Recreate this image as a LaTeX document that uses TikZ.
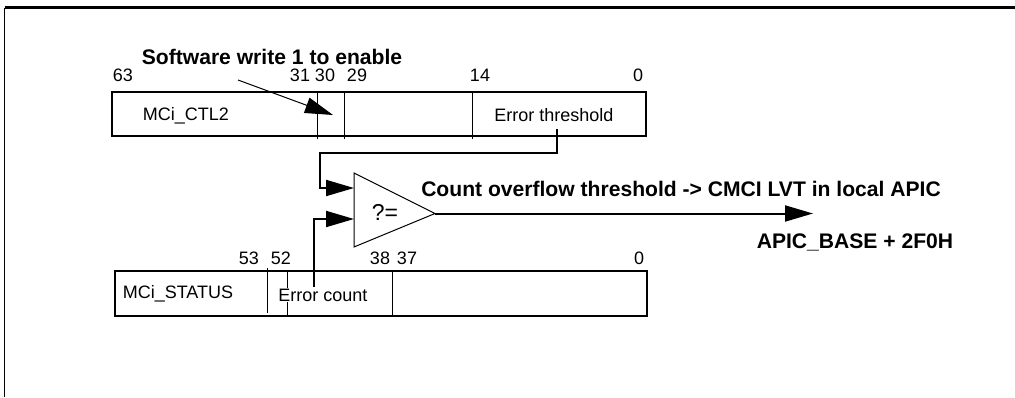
\documentclass[tikz,border=0pt]{standalone}
\usepackage{fontspec}
\setmainfont{Liberation Sans}
\usetikzlibrary{arrows.meta}
\begin{document}
\begin{tikzpicture}[x=1pt,y=-1pt,
  txt/.style={font=\fontsize{18}{21}\selectfont, inner sep=0pt, anchor=base},
  bold/.style={font=\fontsize{21.1}{24}\selectfont\bfseries, inner sep=0pt, anchor=base},
  reg/.style={draw, line width=2pt, inner sep=0pt},
  div/.style={line width=1pt},
  conn/.style={line width=2pt},
  arr/.style={-{Triangle[length=28pt,width=16pt]}},
]
\useasboundingbox (0,0) rectangle (1015,397);
% frame
\draw[line width=2.2pt] (4.5,7.5) -- (1015,7.5);
\draw[line width=1.3pt] (4.5,7.5) -- (4.5,397);

% registers
\node[reg, minimum width=534pt, minimum height=44pt] (ctl) at (379,114) {};
\node[reg, minimum width=532pt, minimum height=45pt] (sts) at (381,293.5) {};

% dividers
\draw[div] (317,92) -- (317,139);
\draw[div] (344,92) -- (344,139);
\draw[div] (472,92) -- (472,139);
\draw[div] (267,268) -- (267,313);
\draw[div] (287.5,271) -- (287.5,316);
\draw[div] (392,271) -- (392,316);

% bit numbers
\node[txt] (n63) at (123,81.5) {63};
\node[txt] (n31) at (300,81.5) {31};
\node[txt] (n30) at (325,81.5) {30};
\node[txt] (n29) at (357,81.5) {29};
\node[txt] (n14) at (480,81.5) {14};
\node[txt] (n0a) at (638,81.5) {0};
\node[txt] (n53) at (249,264) {53};
\node[txt] (n52) at (281,264) {52};
\node[txt] (n38) at (380,264) {38};
\node[txt] (n37) at (407,264) {37};
\node[txt] (n0b) at (639,264) {0};

% field labels
\node[txt] (ctlname) at (186,120) {MCi\_CTL2};
\node[txt] (thr) at (554,121.5) {Error threshold};
\node[txt] (stsname) at (178,298) {MCi\_STATUS};
\node[txt, fill=white, inner ysep=1pt] (cnt) at (323,301) {Error count};

% headings
\node[bold] (sw) at (272,64) {Software write 1 to enable};
\node[bold] (ovf) at (681,196.5) {Count overflow threshold -> CMCI LVT in local APIC};
\node[bold] (base) at (855,248) {APIC\_BASE + 2F0H};

% comparator
\coordinate (cA) at (354,173);
\coordinate (cB) at (354,247);
\coordinate (cT) at (435,213.5);
\coordinate (in1) at (354,188);
\coordinate (in2) at (354,219);
\draw[line width=1pt, line join=miter] (cA) -- (cT) -- (cB) -- cycle;
\node[txt, font=\fontsize{23}{26}\selectfont] (cmp) at (385,220) {?=};

% connectors
\coordinate (thrOut) at (557,129);
\coordinate (cntOut) at (314,287);
\coordinate (apic) at (813,213.5);
\coordinate (swS) at (238,80);
\coordinate (swT) at (333,115);
\draw[conn, arr] (thrOut) -- (557,153) -- (320,153) -- (320,188) -- (in1);
\draw[conn, arr] (cntOut) -- (314,219) -- (in2);
\draw[conn, arr] (cT) -- (apic);
\draw[line width=1pt, arr] (swS) -- (swT);
\end{tikzpicture}
\end{document}
